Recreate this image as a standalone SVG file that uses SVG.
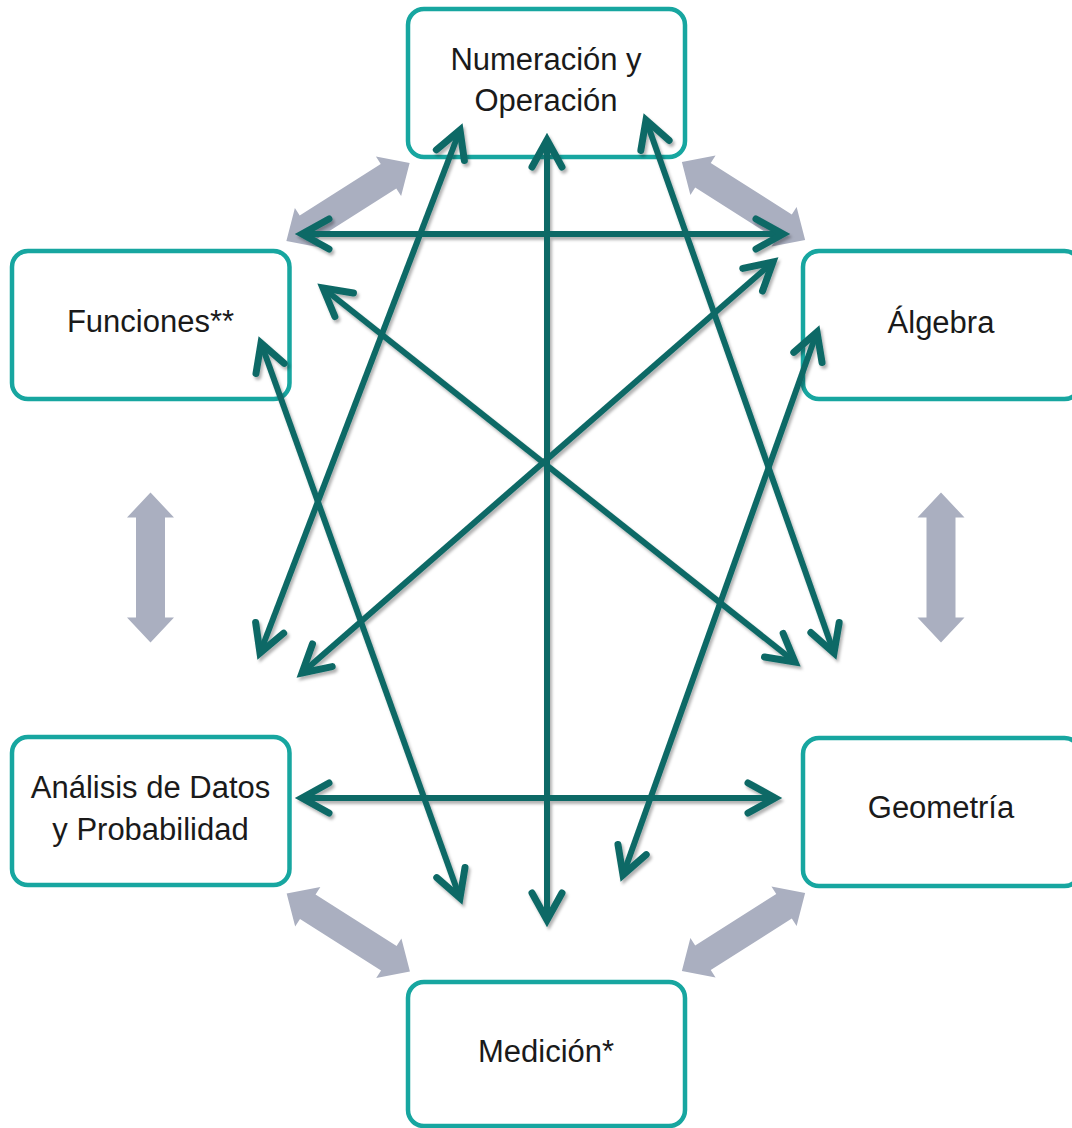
<svg xmlns="http://www.w3.org/2000/svg" width="1072" height="1128" viewBox="0 0 1072 1128">
<style>
.box{fill:#ffffff;stroke:#17A6A0;stroke-width:4.5}
.lbl{font-family:"Liberation Sans",Arial,sans-serif;font-size:31px;fill:#1a1a1a;text-anchor:middle}
.con{stroke:#0E6966;stroke-width:6;fill:none;marker-start:url(#ah);marker-end:url(#ah)}
.gray{fill:#AAAFC0}
</style>
<defs>
<marker id="ah" markerUnits="userSpaceOnUse" orient="auto-start-reverse" refX="0" refY="0" markerWidth="40" markerHeight="40" viewBox="-34 -20 40 40" overflow="visible">
<path d="M-27,-15 L0,0 L-27,15" fill="none" stroke="#0E6966" stroke-width="7" stroke-linecap="round" stroke-linejoin="miter"/>
</marker>
<filter id="sh" x="-10%" y="-10%" width="120%" height="120%">
<feDropShadow dx="2" dy="3" stdDeviation="1.5" flood-color="#000" flood-opacity="0.3"/>
</filter>
<path id="gv" d="M-75,0 L-50,-23.5 L-50,-14.5 L50,-14.5 L50,-23.5 L75,0 L50,23.5 L50,14.5 L-50,14.5 L-50,23.5 Z"/>
<path id="gd" d="M-73,0 L-48,-23.5 L-48,-14.5 L48,-14.5 L48,-23.5 L73,0 L48,23.5 L48,14.5 L-48,14.5 L-48,23.5 Z"/>
</defs>
<rect width="1072" height="1128" fill="#ffffff"/>
<g id="gray-arrows" class="gray">
<use href="#gd" transform="translate(348,202) rotate(-32.4)"/>
<use href="#gd" transform="translate(743.5,201) rotate(32.4)"/>
<use href="#gv" transform="translate(150.5,567.5) rotate(90)"/>
<use href="#gv" transform="translate(941,567.5) rotate(90)"/>
<use href="#gd" transform="translate(348.3,932.5) rotate(32.4)"/>
<use href="#gd" transform="translate(743.5,932) rotate(-32.4)"/>
</g>
<g id="node-numeracion"><rect class="box" x="408" y="9" width="277" height="148" rx="16"/><text class="lbl" x="546" y="70">Numeración y</text><text class="lbl" x="546" y="111">Operación</text></g>
<g id="node-funciones"><rect class="box" x="12" y="251" width="277.5" height="148" rx="16"/><text class="lbl" x="150.5" y="332">Funciones**</text></g>
<g id="node-algebra"><rect class="box" x="803" y="251" width="277.5" height="148" rx="16"/><text class="lbl" x="941" y="333">Álgebra</text></g>
<g id="node-analisis"><rect class="box" x="12" y="737" width="277.5" height="148" rx="16"/><text class="lbl" x="150.5" y="798">Análisis de Datos</text><text class="lbl" x="150.5" y="840">y Probabilidad</text></g>
<g id="node-geometria"><rect class="box" x="803" y="738" width="277.5" height="148" rx="16"/><text class="lbl" x="941" y="818">Geometría</text></g>
<g id="node-medicion"><rect class="box" x="408" y="982" width="277" height="144" rx="16"/><text class="lbl" x="546" y="1062">Medición*</text></g>
<g id="connectors" filter="url(#sh)">
<line class="con" x1="302" y1="234" x2="783" y2="234"/>
<line class="con" x1="302" y1="798" x2="775" y2="798"/>
<line class="con" x1="547" y1="140" x2="547" y2="920"/>
<line class="con" x1="460" y1="130" x2="260" y2="653"/>
<line class="con" x1="646" y1="120" x2="834" y2="653"/>
<line class="con" x1="323" y1="288" x2="795" y2="662"/>
<line class="con" x1="773" y1="262" x2="302" y2="673"/>
<line class="con" x1="261" y1="343" x2="460" y2="898"/>
<line class="con" x1="817" y1="332" x2="623" y2="875"/>
</g>
</svg>
